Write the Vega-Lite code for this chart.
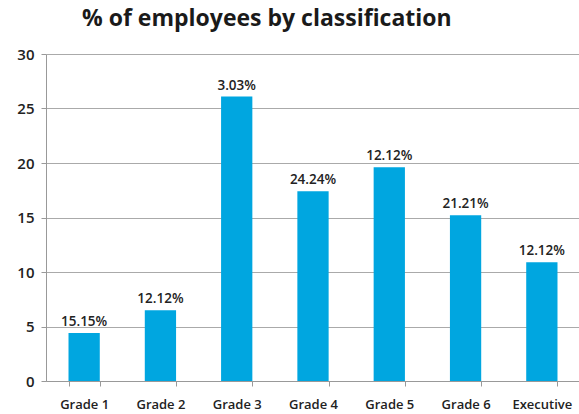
{
  "$schema": "https://vega.github.io/schema/vega-lite/v6.json",
  "width": 534,
  "height": 327,
  "autosize": "none",
  "padding": {"left": 46, "top": 54, "right": 0, "bottom": 33},
  "background": "white",
  "title": {
    "text": "% of employees by classification",
    "font": "Open Sans",
    "fontSize": 23,
    "fontWeight": "bold",
    "color": "#1a1a1a",
    "anchor": "start",
    "frame": "group",
    "dx": 36,
    "offset": 16
  },
  "data": {
    "values": [
      {"grade": "Grade 1", "value": 4.4, "label": "15.15%"},
      {"grade": "Grade 2", "value": 6.5, "label": "12.12%"},
      {"grade": "Grade 3", "value": 26.1, "label": "3.03%"},
      {"grade": "Grade 4", "value": 17.4, "label": "24.24%"},
      {"grade": "Grade 5", "value": 19.6, "label": "12.12%"},
      {"grade": "Grade 6", "value": 15.2, "label": "21.21%"},
      {"grade": "Executive", "value": 10.9, "label": "12.12%"}
    ]
  },
  "encoding": {
    "x": {
      "field": "grade",
      "type": "nominal",
      "sort": null,
      "scale": {"paddingInner": 0.59, "paddingOuter": 0.295},
      "axis": {
        "title": null,
        "labelAngle": 0,
        "labelFont": "Open Sans",
        "labelFontSize": 13,
        "labelFontWeight": 600,
        "labelColor": "#222",
        "labelPadding": 12,
        "tickBand": "extent",
        "tickSize": 5,
        "tickColor": "#999",
        "domainColor": "#999",
        "grid": false
      }
    },
    "y": {
      "field": "value",
      "type": "quantitative",
      "scale": {"domain": [0, 30], "nice": false},
      "axis": {
        "title": null,
        "values": [0, 5, 10, 15, 20, 25, 30],
        "labelFont": "Open Sans",
        "labelFontSize": 15,
        "labelFontWeight": 600,
        "labelColor": "#222",
        "labelPadding": 7,
        "tickSize": 5,
        "tickColor": "#999",
        "domainColor": "#999",
        "gridColor": "#aaa",
        "gridWidth": 1
      }
    }
  },
  "layer": [
    {"mark": {"type": "bar", "color": "#00a6e0"}},
    {
      "mark": {
        "type": "text",
        "baseline": "bottom",
        "dy": -4,
        "font": "Open Sans",
        "fontSize": 13.5,
        "fontWeight": 600,
        "color": "#222"
      },
      "encoding": {"text": {"field": "label"}}
    }
  ],
  "config": {"view": {"stroke": null}}
}
